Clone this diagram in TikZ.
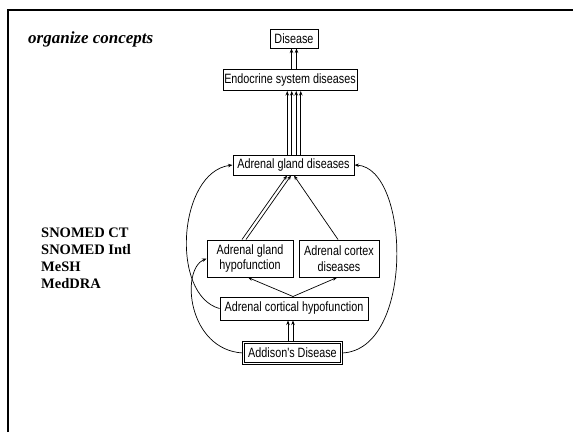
\documentclass[tikz,border=0pt]{standalone}
\usepackage{fontspec}
\setmainfont{Liberation Serif}
\newfontfamily\narr[FakeStretch=0.8]{Liberation Sans}
\usetikzlibrary{arrows.meta}
\tikzset{
  box/.style={draw, line width=1pt, inner sep=0pt, align=center,
    font=\narr\fontsize{13.5}{15.5}\selectfont},
  arr/.style={-{Stealth[length=4.5pt,width=3.5pt]}, line width=0.7pt},
  frame/.style={line width=2.5pt}
}
\begin{document}
\begin{tikzpicture}[x=1pt,y=-1pt]
\useasboundingbox (0,0) rectangle (573,432);
\draw[frame] (8,432) -- (8,10) -- (573,10);

\node[anchor=base west, inner sep=0pt, font=\fontsize{17}{20}\selectfont\bfseries\itshape] (title) at (28,43) {organize concepts};
\node[anchor=base west, align=left, inner sep=0pt, font=\fontsize{14.5}{17}\selectfont\bfseries] (src) at (41,288) {SNOMED CT\\SNOMED Intl\\MeSH\\MedDRA};

\node[box, minimum width=48pt, minimum height=19pt] (dis) at (294,38.5) {Disease};
\node[box, minimum width=134pt, minimum height=21pt] (endo) at (290,80) {Endocrine system diseases};
\node[box, minimum width=121pt, minimum height=20pt] (agd) at (293.5,165) {Adrenal gland diseases};
\node[box, minimum width=86pt, minimum height=37pt] (hypo) at (250,258.5) {Adrenal gland\\hypofunction};
\node[box, minimum width=80pt, minimum height=37pt] (cortex) at (339,258.5) {Adrenal cortex\\diseases};
\node[box, minimum width=148pt, minimum height=23pt] (cort) at (294,308.5) {Adrenal cortical hypofunction};
\node[box, double, double distance=1.6pt, minimum width=98pt, minimum height=21pt] (add) at (292.5,353) {Addison's Disease};

% Endocrine -> Disease
\draw[arr] ([xshift=-2.5pt]dis.south |- endo.north) -- ([xshift=-2.5pt]dis.south);
\draw[arr] ([xshift=2.5pt]dis.south |- endo.north) -- ([xshift=2.5pt]dis.south);
% AGD -> Endocrine (four)
\foreach \dx in {-6.75,-2.25,2.25,6.75}{
  \draw[arr] ([xshift=\dx pt]dis.south |- agd.north) -- ([xshift=\dx pt]dis.south |- endo.south);
}
% hypofunction -> AGD (two)
\draw[arr] ([xshift=-8pt]hypo.north) -- ([xshift=-6.5pt]agd.south);
\draw[arr] ([xshift=-4pt]hypo.north) -- ([xshift=-2.5pt]agd.south);
% cortex -> AGD
\draw[arr] ([xshift=-1pt]cortex.north) -- ([xshift=0.5pt]agd.south);
% cortical -> hypo, cortex
\draw[arr] ([xshift=-1pt]cort.north) -- ([xshift=-2pt]hypo.south);
\draw[arr] ([xshift=-1pt]cort.north) -- ([xshift=-2pt]cortex.south);
% Addison -> cortical (two)
\draw[arr] ([xshift=-4.5pt]add.north) -- ([xshift=-4.5pt]add.north |- cort.south);
\draw[arr] ([xshift=0.5pt]add.north) -- ([xshift=0.5pt]add.north |- cort.south);
% curves
\draw[arr] (cort.west) .. controls (170,295) and (178,172) .. (agd.west);
\draw[arr] (add.west) .. controls (188,350) and (180,270) .. (hypo.west);
\draw[arr] (add.east) .. controls (415,350) and (410,168) .. (agd.east);
\end{tikzpicture}
\end{document}
